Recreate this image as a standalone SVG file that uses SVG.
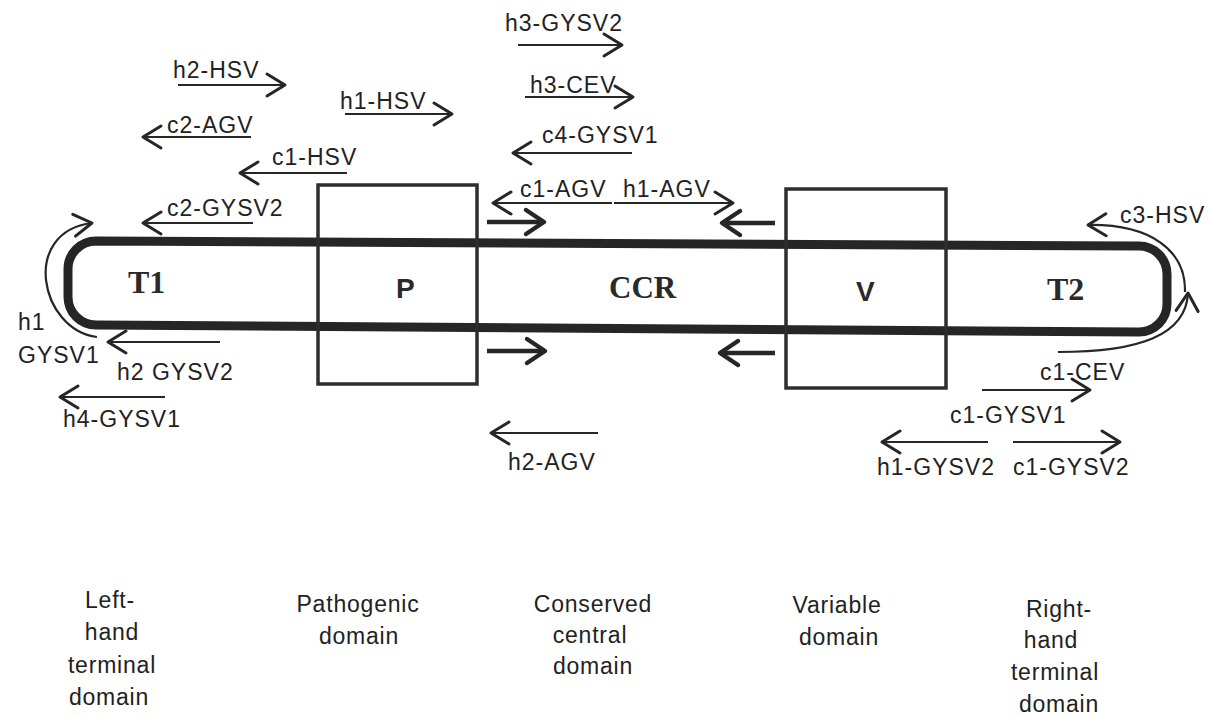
<svg xmlns="http://www.w3.org/2000/svg" width="1209" height="715" viewBox="0 0 1209 715">
<style>
.lbl{font-family:"Liberation Sans",Arial,sans-serif;font-size:23px;letter-spacing:1px;fill:#222}
.dom{font-family:"Liberation Sans",Arial,sans-serif;font-size:23px;letter-spacing:0.8px;fill:#222;text-anchor:middle}
.serifB{font-family:"Liberation Serif","Times New Roman",serif;font-weight:bold;font-size:32px;fill:#2a2a2a}
.sansB{font-family:"Liberation Sans",Arial,sans-serif;font-weight:bold;font-size:28px;fill:#2a2a2a}
.box{fill:none;stroke:#2e2e2e;stroke-width:3.5}
.rod{fill:none;stroke:#262626;stroke-width:9}
.arr{fill:none;stroke:#262626;stroke-width:2.2;marker-end:url(#chev)}
.thick{fill:none;stroke:#262626;stroke-width:4.5;marker-end:url(#chevB)}
</style>
<defs>
<marker id="chev" markerUnits="userSpaceOnUse" viewBox="-25 -15 30 30" refX="0" refY="0" markerWidth="30" markerHeight="30" orient="auto" overflow="visible">
<path d="M-18,-11 L0,0 L-18,11" fill="none" stroke="#262626" stroke-width="3" stroke-linejoin="round" stroke-linecap="round"/>
</marker>
<marker id="chevB" markerUnits="userSpaceOnUse" viewBox="-25 -15 30 30" refX="0" refY="0" markerWidth="30" markerHeight="30" orient="auto" overflow="visible">
<path d="M-18,-12 L0,0 L-18,12" fill="none" stroke="#262626" stroke-width="4.5" stroke-linejoin="round" stroke-linecap="round"/>
</marker>
</defs>

<g id="rod">
<path class="rod" d="M96,241 L1139,246 A28,28 0 0 1 1167,274 L1167,304 A28,28 0 0 1 1139,332 L96,325 A28,28 0 0 1 68,297 L68,269 A28,28 0 0 1 96,241 Z"/>
</g>

<g id="node-T1"><text class="serifB" x="128" y="293">T1</text></g>
<g id="node-P"><rect class="box" x="318" y="185" width="159" height="199"/><text class="sansB" x="396" y="298">P</text></g>
<g id="node-CCR"><text class="serifB" x="609" y="298" style="font-size:31px">CCR</text></g>
<g id="node-V"><rect class="box" x="786" y="189" width="160" height="199"/><text class="sansB" x="856" y="301">V</text></g>
<g id="node-T2"><text class="serifB" x="1047" y="300">T2</text></g>

<g id="connectors">
<path class="arr" d="M178,85 L285,85"/>
<path class="arr" d="M345,114 L452,114"/>
<path class="arr" d="M251,137 L143,137"/>
<path class="arr" d="M347,173 L240,173"/>
<path class="arr" d="M253,223 L143,223"/>
<path class="arr" d="M518,45 L622,45"/>
<path class="arr" d="M525,97 L633,97"/>
<path class="arr" d="M632,153 L513,153"/>
<path class="arr" d="M612,203 L493,203"/>
<path class="arr" d="M614,203 L733,203"/>
<path class="thick" d="M487,222 L544,222"/>
<path class="thick" d="M775,223 L722,223"/>
<path class="thick" d="M487,351 L545,351"/>
<path class="thick" d="M775,353 L720,353"/>
<path class="arr" d="M97,337 C40,330 20,232 92,223"/>
<path class="arr" d="M220,342 L108,342"/>
<path class="arr" d="M165,397 L60,397"/>
<path class="arr" d="M598,433 L491,433"/>
<path class="arr" d="M1185,292 C1186,250 1150,224 1088,225"/>
<path class="arr" d="M1058,352 C1140,352 1186,335 1188,293"/>
<path class="arr" d="M982,390 L1090,390"/>
<path class="arr" d="M988,442 L882,442"/>
<path class="arr" d="M1013,442 L1120,442"/>
</g>

<g id="arrow-labels">
<text class="lbl" x="173" y="78">h2-HSV</text>
<text class="lbl" x="340" y="109">h1-HSV</text>
<text class="lbl" x="167" y="133">c2-AGV</text>
<text class="lbl" x="272" y="165">c1-HSV</text>
<text class="lbl" x="167" y="216">c2-GYSV2</text>
<text class="lbl" x="505" y="31">h3-GYSV2</text>
<text class="lbl" x="530" y="93">h3-CEV</text>
<text class="lbl" x="542" y="143">c4-GYSV1</text>
<text class="lbl" x="520" y="197">c1-AGV</text>
<text class="lbl" x="623" y="197">h1-AGV</text>
<text class="lbl" x="1120" y="223">c3-HSV</text>
<text class="lbl" x="18" y="330">h1</text>
<text class="lbl" x="18" y="363">GYSV1</text>
<text class="lbl" x="117" y="380">h2 GYSV2</text>
<text class="lbl" x="63" y="427">h4-GYSV1</text>
<text class="lbl" x="508" y="470">h2-AGV</text>
<text class="lbl" x="1040" y="380">c1-CEV</text>
<text class="lbl" x="950" y="423">c1-GYSV1</text>
<text class="lbl" x="877" y="475">h1-GYSV2</text>
<text class="lbl" x="1013" y="475">c1-GYSV2</text>
</g>

<g id="domain-labels">
<text class="dom" x="110" y="608">Left-</text>
<text class="dom" x="112" y="640">hand</text>
<text class="dom" x="112" y="673">terminal</text>
<text class="dom" x="109" y="705">domain</text>
<text class="dom" x="358" y="612">Pathogenic</text>
<text class="dom" x="359" y="644">domain</text>
<text class="dom" x="593" y="612">Conserved</text>
<text class="dom" x="590" y="643">central</text>
<text class="dom" x="593" y="674">domain</text>
<text class="dom" x="837" y="613">Variable</text>
<text class="dom" x="839" y="645">domain</text>
<text class="dom" x="1059" y="617">Right-</text>
<text class="dom" x="1051" y="648">hand</text>
<text class="dom" x="1055" y="680">terminal</text>
<text class="dom" x="1059" y="712">domain</text>
</g>
</svg>
